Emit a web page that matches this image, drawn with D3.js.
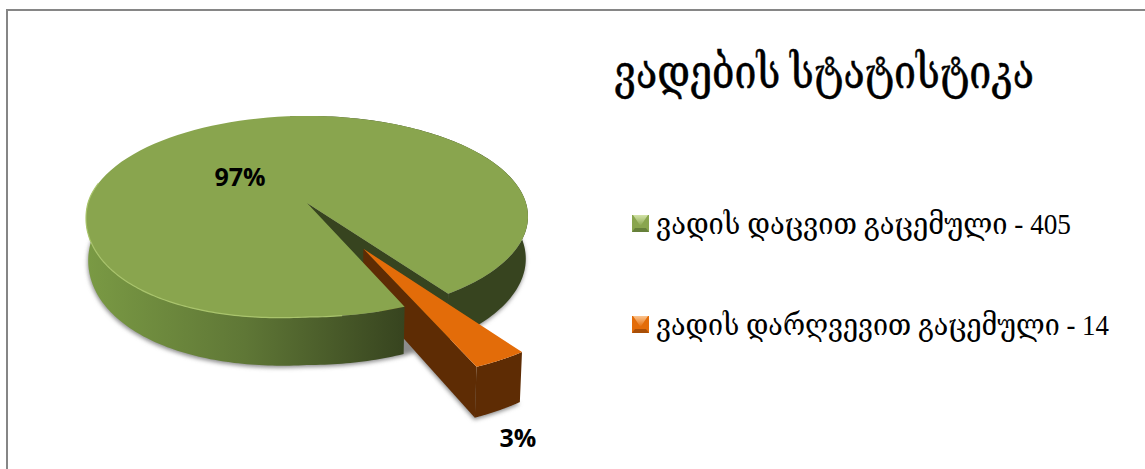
<!DOCTYPE html>
<html>
<head>
<meta charset="utf-8">
<script src="https://cdn.jsdelivr.net/npm/d3@7"></script>
<style>
  html, body { margin: 0; padding: 0; background: #fff; }
  svg { display: block; }
  text { fill: #000; }
</style>
</head>
<body>
<svg width="1145" height="469"></svg>
<script>
const categories = ['ვადის დაცვით გაცემული - 405', 'ვადის დარღვევით გაცემული - 14'];
const values = [405, 14];
const percentLabels = ['97%', '3%'];
const title = 'ვადების სტატისტიკა';
const topColors = ['#89a54e', '#e36c09'];
const swatchLight = ['#d3e3a8', '#fbc48f'];
const swatchDark = ['#66803a', '#a94f08'];

const svg = d3.select('svg');
const width = +svg.attr('width');
const height = +svg.attr('height');
const serif = '"Liberation Serif", "DejaVu Serif", serif';

// frame, runs off the right and bottom of the picture
svg.append('rect')
  .attr('x', 7).attr('y', 10)
  .attr('width', width).attr('height', height)
  .attr('fill', '#fff')
  .attr('stroke', '#868686')
  .attr('stroke-width', 2);

const defs = svg.append('defs');

const sideGrad = defs.append('linearGradient')
  .attr('id', 'side')
  .attr('gradientUnits', 'userSpaceOnUse')
  .attr('x1', 86).attr('x2', 404).attr('y1', 0).attr('y2', 0);
sideGrad.append('stop').attr('offset', 0).attr('stop-color', '#7a9a44');
sideGrad.append('stop').attr('offset', 0.5).attr('stop-color', '#5f7736');
sideGrad.append('stop').attr('offset', 1).attr('stop-color', '#37441f');

defs.append('filter').attr('id', 'soft')
  .attr('x', '-10%').attr('y', '-10%').attr('width', '120%').attr('height', '120%')
  .append('feGaussianBlur').attr('stdDeviation', 2.2);

topColors.forEach((c, i) => {
  const g = defs.append('linearGradient')
    .attr('id', 'swatch' + i)
    .attr('x1', 0).attr('x2', 0).attr('y1', 0).attr('y2', 1);
  g.append('stop').attr('offset', 0).attr('stop-color', swatchLight[i]);
  g.append('stop').attr('offset', 1).attr('stop-color', c);
});

// the pie lies flat and is tilted away from the viewer
const pieX = d3.scaleLinear().domain([-1, 1]).range([307 - 219, 307 + 219]);
const pieY = d3.scaleLinear().domain([-1, 1]).range([203 - 98.7, 203 + 98.7]);
const persp = 0.134;
const depth = 41.6;
const explode = 0.5;
const bulge = 14; // front left of the disc sags a little in the picture

function project(p, low) {
  const w = 1 / (1 - persp * p[1]);
  const shrink = low ? 0.99 : 1;
  const x = pieX(0) + (pieX(p[0]) - pieX(0)) * w * shrink;
  const sag = bulge * Math.max(0, -p[0]) * Math.max(0, p[1]);
  const y = pieY(p[1]) * w + pieY(0) * (1 - w) + sag + (low ? depth * w : 0);
  return [x, y];
}

// d3 pie angles start at 12 o'clock and go clockwise
const rim = (a, o) => [o[0] + Math.sin(a), o[1] - Math.cos(a)];
const rad = (d) => d * Math.PI / 180;

const pie = d3.pie().sort(null).startAngle(rad(157)).endAngle(rad(157 + 360));
const arcs = pie(values);
const green = arcs[0];
const orange = arcs[1];

const mid = (orange.startAngle + orange.endAngle) / 2;
const centre = [0, 0];
const moved = [explode * Math.sin(mid), -explode * Math.cos(mid)];

const line = d3.line();
const arcPts = (a0, a1, o, low) =>
  d3.range(0, 121).map((i) => project(rim(a0 + (a1 - a0) * i / 120, o), low));

// shadow under the base
const shadow = svg.append('g')
  .attr('filter', 'url(#soft)')
  .attr('fill', '#8c8c8c')
  .attr('transform', 'translate(-0.5,2)');
shadow.append('path')
  .attr('d', line(arcPts(green.startAngle, green.endAngle, centre, true)) + 'Z');
shadow.append('path')
  .attr('d', line([project(moved, true), ...arcPts(orange.startAngle, orange.endAngle, moved, true)]) + 'Z');

function wall(a, o) {
  return line([
    project(o, false), project(rim(a, o), false),
    project(rim(a, o), true), project(o, true)
  ]) + 'Z';
}

function band(a0, a1, o) {
  return line([...arcPts(a0, a1, o, false), ...arcPts(a0, a1, o, true).reverse()]) + 'Z';
}

const darkGreen = '#37441f';
const darkOrange = '#5e2c04';

// back part of the green slice: cut wall and right hand side
svg.append('path').attr('d', wall(orange.startAngle, centre)).attr('fill', darkGreen);
svg.append('path')
  .attr('d', band(green.endAngle - rad(150), green.endAngle, centre))
  .attr('fill', darkGreen);

// exploded slice
svg.append('path').attr('d', wall(orange.endAngle, moved)).attr('fill', darkOrange);
svg.append('path').attr('d', band(orange.startAngle, orange.endAngle, moved)).attr('fill', darkOrange);
svg.append('path')
  .attr('d', line([project(moved, false), ...arcPts(orange.startAngle, orange.endAngle, moved, false)]) + 'Z')
  .attr('fill', topColors[1]);

// front part of the green slice goes over the tail of the orange one
svg.append('path')
  .attr('d', band(green.startAngle, green.startAngle + rad(120), centre))
  .attr('fill', 'url(#side)');
svg.append('path')
  .attr('d', line([project(centre, false), ...arcPts(green.startAngle, green.endAngle, centre, false)]) + 'Z')
  .attr('fill', topColors[0]);
svg.append('path')
  .attr('d', line(arcPts(green.startAngle + rad(15), green.startAngle + rad(125), centre, false)))
  .attr('fill', 'none')
  .attr('stroke', '#a9c46c')
  .attr('stroke-width', 1.2);

// percent labels
svg.selectAll('text.pct')
  .data(percentLabels)
  .enter()
  .append('text')
  .attr('class', 'pct')
  .attr('x', (d, i) => [240, 518][i])
  .attr('y', (d, i) => [186, 447][i])
  .attr('text-anchor', 'middle')
  .attr('font-family', '"Open Sans", Lato, sans-serif')
  .attr('font-weight', 700)
  .attr('font-size', 25)
  .text((d) => d);

// title
svg.append('text')
  .attr('x', 614).attr('y', 88)
  .attr('font-family', serif)
  .attr('font-size', 46)
  .attr('stroke', '#000')
  .attr('stroke-width', 0.5)
  .attr('textLength', 420)
  .attr('lengthAdjust', 'spacingAndGlyphs')
  .text(title);

// legend
const legendY = d3.scalePoint().domain(categories).range([224, 325]);
const legend = svg.selectAll('g.legend')
  .data(categories)
  .enter()
  .append('g')
  .attr('class', 'legend')
  .attr('transform', (d) => 'translate(632,' + legendY(d) + ')');

legend.append('rect')
  .attr('x', 0).attr('y', -9)
  .attr('width', 17).attr('height', 17)
  .attr('fill', (d, i) => topColors[i]);
legend.append('path')
  .attr('d', 'M1,-9L16,-9L8.5,2Z')
  .attr('fill', (d, i) => 'url(#swatch' + i + ')');
legend.append('path')
  .attr('d', 'M0,8L17,8L14,4L3,4Z')
  .attr('fill', (d, i) => swatchDark[i]);

legend.append('text')
  .attr('x', 24).attr('y', 10)
  .attr('font-family', serif)
  .attr('font-size', 29)
  .attr('textLength', (d, i) => [415, 453][i])
  .attr('lengthAdjust', 'spacingAndGlyphs')
  .text((d) => d);
</script>
</body>
</html>
